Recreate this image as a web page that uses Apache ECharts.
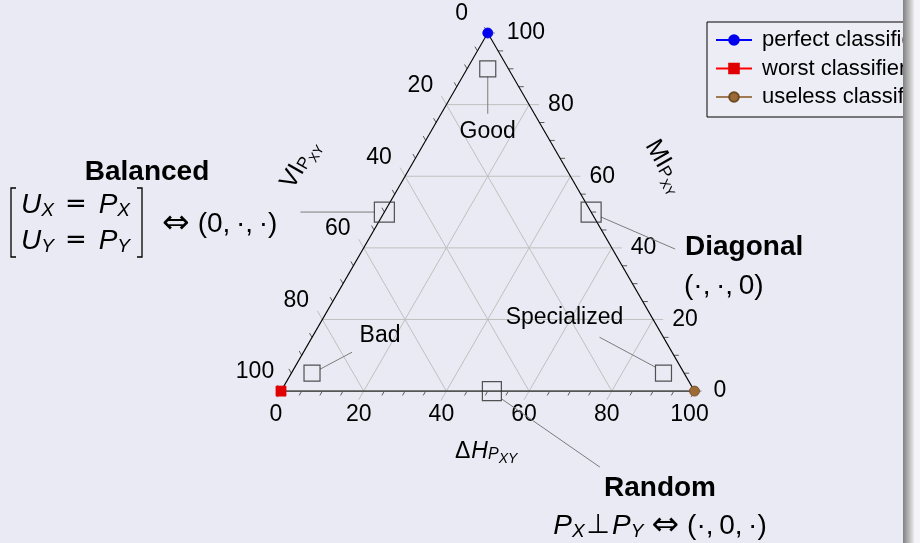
<!DOCTYPE html>
<html>
<head>
<meta charset="utf-8">
<script src="https://cdn.jsdelivr.net/npm/echarts@6/dist/echarts.min.js"></script>
<style>
  html, body { margin: 0; padding: 0; background: #EAEAF4; }
  #chart { width: 920px; height: 543px; }
</style>
</head>
<body>
<div id="chart"></div>
<script>
// Tick values in percent, shared by the three sides of the ternary plot
const majorTicks = [0, 20, 40, 60, 80, 100];
const minorTicks = [5, 10, 15, 25, 30, 35, 45, 50, 55, 65, 70, 75, 85, 90, 95];
const gridValues = [20, 40, 60, 80];

// Reference classifiers, as [ΔH, MI, VI] in percent
const classifierNames = ['perfect classifier', 'worst classifier', 'useless classifier'];
const classifierValues = [[0, 100, 0], [0, 0, 100], [100, 0, 0]];

// Classifier regions, as [ΔH, MI, VI] in percent
const regionNames = ['Good', 'Balanced', 'Diagonal', 'Bad', 'Random', 'Specialized'];
const regionValues = [[5, 90, 5], [0, 50, 50], [50, 50, 0], [5, 5, 90], [51, 0, 49], [90, 5, 5]];

// ---------------------------------------------------------------------------
const H = Math.sqrt(3) / 2;
// ternary [ΔH, MI, VI] -> cartesian (ΔH along the base, MI towards the apex)
const toCart = t => [t[0] + t[1] / 2, t[1] * H];

const FONT = '"Liberation Sans", Arial, Helvetica, sans-serif';
const GRID_COLOR = '#C0C0C0';
const TICK_COLOR = '#5A5A5A';
const THIN = '\u2009';

// The three scales: where a value sits on its side, where its grid line ends,
// the outward tick direction (screen px) and the label offset.
const sides = [
  { from: v => [v, 0, 100 - v], to: v => [v, 100 - v, 0], dir: [-0.5, H], label: [-5, 24], align: 'center' },   // ΔH, base
  { from: v => [0, 100 - v, v], to: v => [100 - v, 0, v], dir: [-0.5, -H], label: [-26, -19], align: 'center' }, // VI, left side
  { from: v => [100 - v, v, 0], to: v => [0, v, 100 - v], dir: [1, 0], label: [19, 0], align: 'left' }            // MI, right side
];

// Annotation layout for each region marker (pixel offsets from the marker)
const regionLayout = {
  Good:        { size: 16, lead: [[0, 8], [0, 45]],      text: 'Good',        at: [0, 63] },
  Balanced:    { size: 20, lead: [[-10, 0], [-84, 0]] },
  Diagonal:    { size: 20, lead: [[10, 5], [84, 37]] },
  Bad:         { size: 16, lead: [[8, -4], [40, -21]],   text: 'Bad',         at: [68, -38] },
  Random:      { size: 19, lead: [[10, 8], [108, 76]] },
  Specialized: { size: 16, lead: [[-8, -6], [-64, -36]], text: 'Specialized', at: [-99, -56] }
};

const classifierStyle = [
  { symbol: 'circle', color: '#0000EE', line: '#0000FF', border: '#0000EE' },
  { symbol: 'rect',   color: '#E00000', line: '#FF0000', border: '#E00000' },
  { symbol: 'circle', color: '#9C6A34', line: '#A07A52', border: '#6E4A22' }
];

function seg(a, b, stroke, w) {
  return { type: 'line', shape: { x1: a[0], y1: a[1], x2: b[0], y2: b[1] }, style: { stroke: stroke, lineWidth: w } };
}
function shift(p, d, len) { return [p[0] + d[0] * len, p[1] + d[1] * len]; }

function renderFrame(params, api) {
  const P = t => api.coord(toCart(t));
  const kids = [];
  sides.forEach(s => {
    gridValues.forEach(v => {
      const a = P(s.from(v));
      kids.push(seg(shift(a, s.dir, 10), P(s.to(v)), GRID_COLOR, 1));
    });
    minorTicks.forEach(v => {
      const a = P(s.from(v));
      kids.push(seg(a, shift(a, s.dir, 5), TICK_COLOR, 1));
    });
    [majorTicks[0], majorTicks[majorTicks.length - 1]].forEach(v => {
      const a = P(s.from(v));
      kids.push(seg(a, shift(a, s.dir, 7), '#7A7A7A', 1));
    });
    majorTicks.forEach(v => {
      const a = P(s.from(v));
      kids.push({
        type: 'text', x: a[0] + s.label[0], y: a[1] + s.label[1],
        style: { text: String(v), font: '23px ' + FONT, fill: '#000', align: s.align, verticalAlign: 'middle' }
      });
    });
  });
  const top = P(classifierValues[0]), left = P(classifierValues[1]), right = P(classifierValues[2]);
  kids.push(seg(left, right, '#555', 1.8));
  kids.push(seg(left, top, '#000', 1.1));
  kids.push(seg(top, right, '#000', 1.1));
  return { type: 'group', children: kids };
}

function renderLeaders(params, api) {
  const c = api.coord([api.value(0), api.value(1)]);
  const L = regionLayout[regionNames[params.dataIndex]];
  const kids = [seg([c[0] + L.lead[0][0], c[1] + L.lead[0][1]], [c[0] + L.lead[1][0], c[1] + L.lead[1][1]], '#7C7C7C', 1)];
  if (L.text) {
    kids.push({
      type: 'text', x: c[0] + L.at[0], y: c[1] + L.at[1],
      style: { text: L.text, font: '23px ' + FONT, fill: '#000', align: 'center', verticalAlign: 'middle' }
    });
  }
  return { type: 'group', children: kids };
}

// Rich-text styles for the math annotations
const mathRich = {
  i: { fontFamily: FONT, fontStyle: 'italic', fontSize: 28, lineHeight: 28, padding: [0, 0, 2, 0] },
  m: { fontFamily: FONT, fontSize: 28, lineHeight: 28, padding: [0, 0, 2, 0] },
  e: { fontFamily: '"DejaVu Sans"', fontSize: 26, lineHeight: 28, padding: [0, 12, 2, 11] },
  o: { fontFamily: '"DejaVu Sans"', fontSize: 27, lineHeight: 28, padding: [0, 2, 2, 2] },
  a: { fontFamily: '"DejaVu Sans"', fontSize: 33, lineHeight: 28, padding: [0, 8, 2, 8] },
  s: { fontFamily: FONT, fontStyle: 'italic', fontSize: 19, lineHeight: 19, verticalAlign: 'bottom' }
};
const axisRich = {
  m: { fontFamily: FONT, fontSize: 25, lineHeight: 25, padding: [0, 0, 7, 0] },
  s: { fontFamily: FONT, fontSize: 17, lineHeight: 17, padding: [0, 0, 4, 0], verticalAlign: 'bottom' },
  t: { fontFamily: FONT, fontSize: 13, lineHeight: 13, verticalAlign: 'bottom' }
};
const deltaRich = {
  m: { fontFamily: FONT, fontSize: 23, lineHeight: 23, padding: [0, 1, 7, 0] },
  i: { fontFamily: FONT, fontStyle: 'italic', fontSize: 23, lineHeight: 23, padding: [0, 0, 7, 0] },
  s: { fontFamily: FONT, fontStyle: 'italic', fontSize: 16, lineHeight: 16, padding: [0, 0, 4, 0], verticalAlign: 'bottom' },
  t: { fontFamily: FONT, fontStyle: 'italic', fontSize: 14, lineHeight: 14, verticalAlign: 'bottom' }
};

function txt(x, y, text, extra) {
  return Object.assign({ type: 'text', x: x, y: y, silent: true,
    style: Object.assign({ text: text, fill: '#000', font: '23px ' + FONT, align: 'left', verticalAlign: 'middle' }, extra || {}) });
}
function bold(x, y, text, align) {
  return txt(x, y, text, { font: 'bold 28px ' + FONT, align: align || 'center' });
}

const chart = echarts.init(document.getElementById('chart'), null, { renderer: 'canvas' });

const option = {
  animation: false,
  backgroundColor: '#EAEAF4',
  textStyle: { fontFamily: FONT },
  grid: { left: 281, top: 33, width: 413.5, height: 413.5 * H },
  xAxis: { type: 'value', min: 0, max: 100, show: false },
  yAxis: { type: 'value', min: 0, max: 100 * H, show: false },
  legend: {
    data: classifierNames,
    orient: 'vertical', left: 707, top: 22,
    padding: [7, 10, 9, 8], itemGap: 6.5,
    itemWidth: 36, itemHeight: 12,
    borderColor: '#000', borderWidth: 1, borderRadius: 0,
    backgroundColor: '#EDEDF6',
    selectedMode: false,
    textStyle: { fontSize: 22, lineHeight: 22, color: '#000', fontFamily: FONT, padding: [0, 0, 0, 5] }
  },
  series: [
    { type: 'custom', name: 'frame', silent: true, clip: false, z: 1,
      data: [[0, 0]], renderItem: renderFrame },
    { type: 'custom', name: 'leaders', silent: true, clip: false, z: 2,
      data: regionValues.map(toCart), renderItem: renderLeaders },
    { type: 'scatter', name: 'regions', silent: true, clip: false, z: 3,
      data: regionValues.map(toCart), symbol: 'rect',
      symbolSize: (val, p) => regionLayout[regionNames[p.dataIndex]].size,
      itemStyle: { color: 'rgba(0,0,0,0)', borderColor: '#2A2A2A', borderWidth: 1.2 } }
  ].concat(classifierNames.map((name, k) => ({
    type: 'line', name: name, clip: false, z: 5,
    data: [toCart(classifierValues[k])],
    symbol: classifierStyle[k].symbol, symbolSize: 10, showSymbol: true,
    itemStyle: { color: classifierStyle[k].color, borderColor: classifierStyle[k].border, borderWidth: 0.8 },
    lineStyle: { color: classifierStyle[k].line, width: 1 }
  }))),
  graphic: [
    // Balanced
    bold(147, 172, 'Balanced'),
    { type: 'polyline', silent: true, shape: { points: [[16, 188], [11, 188], [11, 257], [16, 257]] },
      style: { stroke: '#000', lineWidth: 1.3, fill: null } },
    { type: 'polyline', silent: true, shape: { points: [[137, 188], [142, 188], [142, 257], [137, 257]] },
      style: { stroke: '#000', lineWidth: 1.3, fill: null } },
    txt(21, 206, '{i|U}{s|X}{e|=}{i|P}{s|X}', { rich: mathRich }),
    txt(21, 242, '{i|U}{s|Y}{e|=}{i|P}{s|Y}', { rich: mathRich }),
    txt(154, 225, '{a|⇔}{m|(0,' + THIN + '·,' + THIN + '·)}', { rich: mathRich }),
    // Diagonal
    bold(685, 247, 'Diagonal', 'left'),
    txt(684, 287, '{m|(·,' + THIN + '·,' + THIN + '0)}', { rich: mathRich }),
    // Random
    bold(660, 488, 'Random'),
    txt(660, 527, '{i|P}{s|X}{o|⊥}{i|P}{s|Y}{a|⇔}{m|(·,' + THIN + '0,' + THIN + '·)}', { rich: mathRich, align: 'center' }),
    // axis titles
    txt(455, 455, '{m|Δ}{i|H}{s|P}{t|XY}', { rich: deltaRich }),
    Object.assign(txt(303, 166, '{m|VI}{s|P}{t|XY}', { rich: axisRich, align: 'center' }), { rotation: Math.PI / 3 }),
    Object.assign(txt(662, 168, '{m|MI}{s|P}{t|XY}', { rich: axisRich, align: 'center' }), { rotation: -Math.PI / 3 }),
    // page edge shading
    { type: 'rect', silent: true, z: 100, x: 903, y: 0, shape: { width: 11, height: 543 },
      style: { fill: new echarts.graphic.LinearGradient(0, 0, 1, 0, [
        { offset: 0, color: '#808080' }, { offset: 1, color: '#EAEAEA' }]) } },
    { type: 'rect', silent: true, z: 100, x: 914, y: 0, shape: { width: 6, height: 543 },
      style: { fill: '#F4F4F8' } }
  ]
};

chart.setOption(option);
</script>
</body>
</html>
